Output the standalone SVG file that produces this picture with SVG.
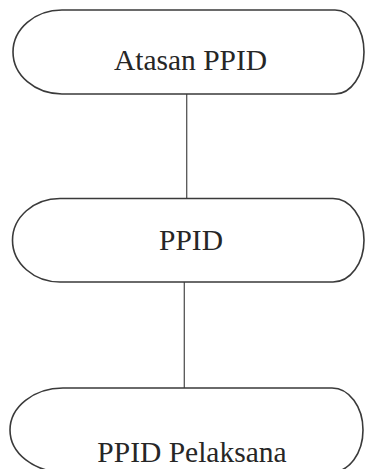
<svg xmlns="http://www.w3.org/2000/svg" width="365" height="469" viewBox="0 0 365 469">
<style>
.box{fill:#fff;stroke:#3a3a3a;stroke-width:1.6}
.lbl{font-family:"Liberation Serif","Times New Roman",serif;font-size:29.5px;fill:#262626;text-anchor:middle}
.con{stroke:#555;stroke-width:1.3;fill:none}
</style>
<rect width="365" height="469" fill="#fff"/>
<g id="connectors">
<line class="con" x1="186.7" y1="94" x2="186.7" y2="198.5"/>
<line class="con" x1="184.3" y1="282" x2="184.3" y2="388"/>
</g>
<g id="atasan-ppid">
<path class="box" d="M62,10 H335 A29,42 0 0 1 335,94 H62 A49,42 0 0 1 62,10 Z"/>
<text class="lbl" x="190.5" y="70">Atasan PPID</text>
</g>
<g id="ppid">
<path class="box" d="M60,198.5 H333 A31,41.75 0 0 1 333,282 H60 A47.5,41.75 0 0 1 60,198.5 Z"/>
<text class="lbl" x="191" y="250">PPID</text>
</g>
<g id="ppid-pelaksana">
<path class="box" d="M63,388 H332 A31,42 0 0 1 332,472 H63 A53,42 0 0 1 63,388 Z"/>
<text class="lbl" x="192" y="462">PPID Pelaksana</text>
</g>
</svg>
